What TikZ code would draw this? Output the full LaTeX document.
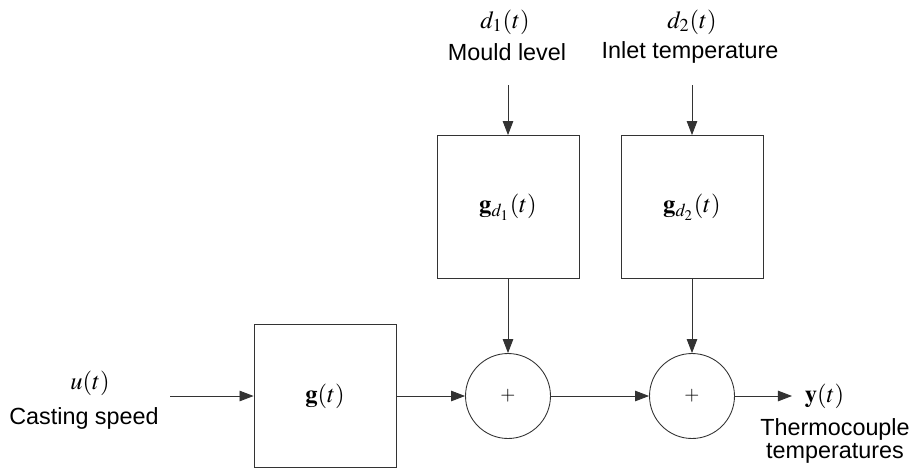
\documentclass[tikz,border=0pt]{standalone}
\usepackage{amsmath}
\usepackage{mathptmx}
\usepackage{fontspec}
\newfontfamily\labelfont{Liberation Sans}
\usetikzlibrary{positioning, calc, arrows.meta}

\begin{document}
\begin{tikzpicture}[x=0.02cm, y=-0.02cm,
        >={Triangle[length=8pt,width=6pt]},
        block/.style={draw=black!80, line width=0.5pt, minimum width=2.84cm, minimum height=2.86cm, inner sep=0pt, font=\fontsize{14}{15}\selectfont},
        sumnode/.style={draw=black!80, circle, line width=0.5pt, minimum size=1.7cm, inner sep=0pt, font=\fontsize{11}{12}\selectfont},
        lbl/.style={font=\labelfont\fontsize{13.3}{13.6}\selectfont, inner sep=0pt, align=center},
        sig/.style={font=\fontsize{14}{15}\selectfont, inner sep=0pt},
        link/.style={->, draw=black!80, line width=0.5pt}]

        \useasboundingbox (0,0) rectangle (913,474);

        % main path
        \coordinate (in) at (170,396);
        \node[block] (plant) at (325,396) {$\mathbf{g}(t)$};
        \node[sumnode] (sum1) at (508,396) {$+$};
        \node[sumnode] (sum2) at (692,396) {$+$};
        \coordinate (out) at (792,396);

        % disturbance blocks
        \node[block] (dist1) at (508,207) {$\mathbf{g}_{d_1}(t)$};
        \node[block] (dist2) at (692,207) {$\mathbf{g}_{d_2}(t)$};
        \coordinate (d1in) at (508,85);
        \coordinate (d2in) at (692,85);

        % labels
        \node[sig] (ut) at (90,383) {$u(t)$};
        \node[lbl] (speed) at (84,418) {Casting speed};
        \node[sig] (d1t) at (505,22) {$d_1(t)$};
        \node[lbl] (mould) at (507,52) {Mould level};
        \node[sig] (d2t) at (692,22) {$d_2(t)$};
        \node[lbl] (inlet) at (690,52) {Inlet temperature};
        \node[sig, right=0.25cm of out] (yt) {$\mathbf{y}(t)$};
        \node[lbl] (thermo) at (835,441) {Thermocouple\\temperatures};

        % connectors
        \draw[link] (in) -- (plant);
        \draw[link] (plant) -- (sum1);
        \draw[link] (sum1) -- (sum2);
        \draw[link] (sum2) -- (out);
        \draw[link] (d1in) -- (dist1);
        \draw[link] (d2in) -- (dist2);
        \draw[link] (dist1) -- (sum1);
        \draw[link] (dist2) -- (sum2);

\end{tikzpicture}
\end{document}
